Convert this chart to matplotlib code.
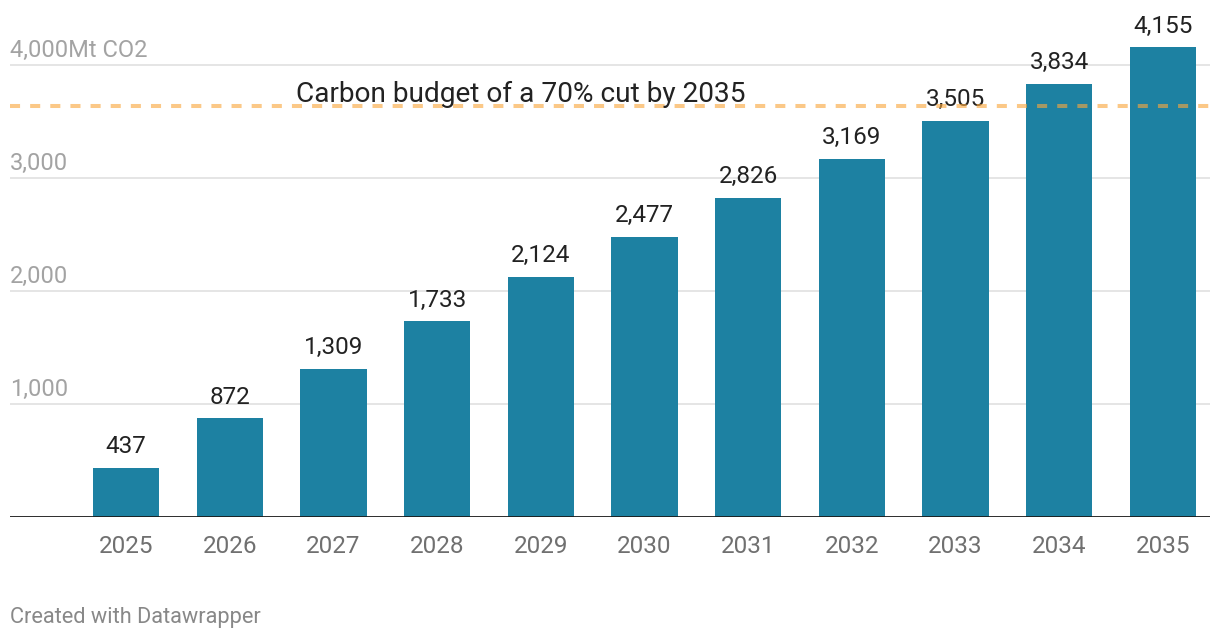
import matplotlib
matplotlib.use("Agg")
import matplotlib.pyplot as plt

years = ["2025", "2026", "2027", "2028", "2029", "2030", "2031", "2032", "2033", "2034", "2035"]
values = [437, 872, 1309, 1733, 2124, 2477, 2826, 3169, 3505, 3834, 4155]
budget = 3640
yticks = [1000, 2000, 3000, 4000]
ytick_labels = ["1,000", "2,000", "3,000", "4,000Mt CO2"]
annotation = "Carbon budget of a 70% cut by 2035"

plt.rcParams['font.family'] = ['Roboto', 'DejaVu Sans']

fig = plt.figure(figsize=(12.2, 6.4), dpi=100)
W, H = 1220, 640
y0_px = 517
px_per_unit = 113 / 1000
top_px = 0
ymax = (y0_px - top_px) / px_per_unit
ax = fig.add_axes([10 / W, (H - y0_px) / H, 1200 / W, (y0_px - top_px) / H])
ax.set_ylim(0, ymax)
spacing = 103.7
c0 = 126 - 10
xmin = -c0 / spacing
xmax = xmin + 1200 / spacing
ax.set_xlim(xmin, xmax)

for s in ax.spines.values():
    s.set_visible(False)
ax.set_xticks([])
ax.set_yticks([])

for yt, lab in zip(yticks, ytick_labels):
    ax.axhline(yt, color="#e3e3e3", lw=1.3, zorder=0)
    ax.text(xmin, yt + 75, lab, fontsize=17, color="#a3a3a3", ha="left", va="baseline")

xs = list(range(len(years)))
ax.bar(xs, values, width=0.64, color="#1d81a2", zorder=2)
ax.axhline(0, color="#1a1a1a", lw=2, zorder=3)

for x, v, y in zip(xs, values, years):
    ax.text(x, v + 130, f"{v:,}", ha="center", va="baseline", fontsize=17.5, color="#222222")
    ax.text(x, -320, y, ha="center", va="baseline", fontsize=17.5, color="#707070")

ax.axhline(budget, color="#f9a73e", alpha=0.62, lw=2.9, dashes=(2.5, 2.5), zorder=4)
ax.text(1.64, budget + 35, annotation, ha="left", va="baseline", fontsize=20.2, color="#222222", zorder=5)

fig.text(10 / W, 1 - 623 / H, "Created with Datawrapper", ha="left", va="baseline", fontsize=15.7, color="#888888")

fig.savefig("out.png", dpi=100)
